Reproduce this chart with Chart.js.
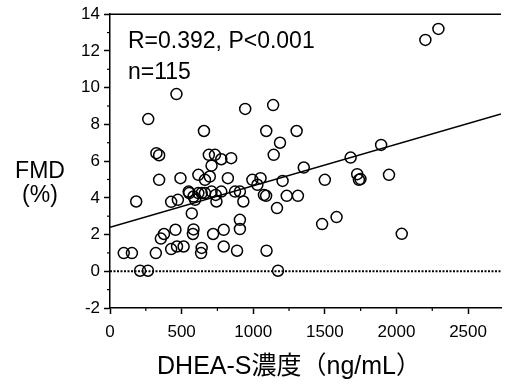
<!DOCTYPE html>
<html>
<head>
<meta charset="utf-8">
<script src="https://cdn.jsdelivr.net/npm/chart.js@4/dist/chart.umd.min.js"></script>
<style>
  html, body { margin: 0; padding: 0; background: #fff; }
  #wrap { width: 508px; height: 385px; }
</style>
</head>
<body>
<div id="wrap"><canvas id="c"></canvas></div>
<script>
// DHEA-S (ng/mL) vs FMD (%) scatter
const dheaValues = [
  2293, 2202, 464, 1139, 944, 267, 656, 1091, 1303, 1187,
  1893, 1680, 324, 343, 690, 733, 1143, 777, 846, 709,
  1353, 617, 1726, 1948, 697, 492, 823, 1051, 343, 663,
  994, 1500, 1749, 1738, 1205, 1029, 549, 640, 663, 709,
  777, 873, 907, 738, 1075, 1090, 1234, 1312, 583, 183,
  427, 474, 594, 743, 931, 1166, 571, 1582, 907, 1481,
  907, 457, 583, 794, 2037, 377, 579, 720, 355, 468,
  514, 794, 427, 640, 887, 1093, 96, 153, 320, 636,
  210, 265, 1173, 617, 553
];
const fmdValues = [
  13.2, 12.6, 9.65, 9.05, 8.84, 8.29, 7.64, 7.64, 7.64, 7.0,
  6.88, 6.19, 6.43, 6.32, 6.34, 6.34, 6.34, 6.10, 6.16, 5.75,
  5.65, 5.25, 5.29, 5.25, 5.16, 5.07, 5.07, 5.07, 4.98, 4.98,
  4.98, 4.98, 5.02, 4.98, 4.92, 4.71, 4.34, 4.26, 4.26, 4.34,
  4.34, 4.34, 4.34, 4.16, 4.16, 4.11, 4.11, 4.11, 4.07, 3.80,
  3.78, 3.89, 3.89, 3.80, 3.80, 3.44, 3.15, 2.95, 2.80, 2.57,
  2.30, 2.26, 2.28, 2.26, 2.04, 2.03, 2.03, 2.03, 1.78, 1.35,
  1.35, 1.35, 1.21, 1.27, 1.12, 1.12, 0.99, 0.99, 0.99, 0.99,
  0.03, 0.03, 0.03, 4.26, 4.26
];
// regression line and zero reference
const fitX = [0, 2730];
const fitY = [2.39, 8.57];
const zeroX = [0, 2730];
const zeroY = [0, 0];

const xTickValues = [0, 500, 1000, 1500, 2000, 2500];
const yTickValues = [-2, 0, 2, 4, 6, 8, 10, 12, 14];
const xMinorTicks = [250, 750, 1250, 1750, 2250];
const yMinorTicks = [-1, 1, 3, 5, 7, 9, 11, 13];

const statText = 'R=0.392, P<0.001';
const nText = 'n=115';
const yTitle = ['FMD', '(%)'];
const xTitle = 'DHEA-S濃度（ng/mL）';

const xMin = 0, xMax = 2730;
const yMin = -2, yMax = 14;

const fontFam = '"Liberation Sans", Arial, "Noto Sans CJK JP", sans-serif';

const toPts = (xs, ys) => xs.map((x, i) => ({ x: x, y: ys[i] }));

// axis titles, stat text, minor ticks and the top frame line
const extras = {
  id: 'extras',
  afterDraw(chart) {
    const ctx = chart.ctx;
    const a = chart.chartArea;
    const xs = chart.scales.x, ys = chart.scales.y;
    ctx.save();
    ctx.strokeStyle = '#000';
    ctx.lineWidth = 1.5;
    // top frame line
    ctx.beginPath();
    ctx.moveTo(a.left, a.top);
    ctx.lineTo(a.right, a.top);
    ctx.stroke();
    // minor ticks
    ctx.lineWidth = 1.2;
    xMinorTicks.forEach((v) => {
      const px = xs.getPixelForValue(v);
      ctx.beginPath();
      ctx.moveTo(px, a.bottom);
      ctx.lineTo(px, a.bottom + 3);
      ctx.stroke();
    });
    yMinorTicks.forEach((v) => {
      const py = ys.getPixelForValue(v);
      ctx.beginPath();
      ctx.moveTo(a.left, py);
      ctx.lineTo(a.left - 3, py);
      ctx.stroke();
    });
    ctx.fillStyle = '#000';
    ctx.textBaseline = 'alphabetic';
    // stats
    ctx.textAlign = 'left';
    ctx.font = '23px ' + fontFam;
    ctx.fillText(statText, a.left + 18, 48);
    ctx.fillText(nText, a.left + 18, 79);
    // y title
    ctx.textAlign = 'center';
    ctx.font = '23px ' + fontFam;
    ctx.fillText(yTitle[0], 40, 178);
    ctx.fillText(yTitle[1], 40, 202);
    // x title
    ctx.font = '25px ' + fontFam;
    ctx.fillText(xTitle, 289, 374);
    ctx.restore();
  }
};

new Chart(document.getElementById('c'), {
  type: 'scatter',
  data: {
    datasets: [
      {
        data: toPts(zeroX, zeroY),
        showLine: true,
        borderColor: '#000',
        borderWidth: 2,
        borderDash: [2, 1.5],
        pointRadius: 0,
        order: 3
      },
      {
        data: toPts(fitX, fitY),
        showLine: true,
        borderColor: '#000',
        borderWidth: 1.5,
        pointRadius: 0,
        order: 2
      },
      {
        data: toPts(dheaValues, fmdValues),
        pointRadius: 5.5,
        pointBorderWidth: 1.5,
        borderColor: '#000',
        backgroundColor: 'rgba(255,255,255,0)',
        order: 1
      }
    ]
  },
  options: {
    responsive: true,
    maintainAspectRatio: false,
    animation: false,
    layout: { padding: { top: 14, right: 0, left: 0, bottom: 0 } },
    plugins: {
      legend: { display: false },
      tooltip: { enabled: false }
    },
    scales: {
      x: {
        type: 'linear',
        min: xMin,
        max: xMax,
        grid: { drawOnChartArea: false, drawTicks: true, tickLength: 6, tickColor: '#000', tickWidth: 1.5 },
        border: { color: '#000', width: 1.5 },
        afterBuildTicks(scale) {
          scale.ticks = xTickValues.map((v) => ({ value: v }));
        },
        ticks: {
          maxRotation: 0,
          autoSkip: false,
          color: '#000',
          padding: 8,
          font: { family: fontFam, size: 17 },
          callback: (v) => String(v)
        },
        afterFit(scale) { scale.height = 77; }
      },
      y: {
        min: yMin,
        max: yMax,
        grid: { drawOnChartArea: false, drawTicks: true, tickLength: 6, tickColor: '#000', tickWidth: 1.5 },
        border: { color: '#000', width: 1.5 },
        afterBuildTicks(scale) {
          scale.ticks = yTickValues.map((v) => ({ value: v }));
        },
        ticks: {
          autoSkip: false,
          color: '#000',
          padding: 4,
          font: { family: fontFam, size: 17 },
          callback: (v) => String(v)
        },
        afterFit(scale) { scale.width = 110; }
      }
    }
  },
  plugins: [extras]
});
</script>
</body>
</html>
